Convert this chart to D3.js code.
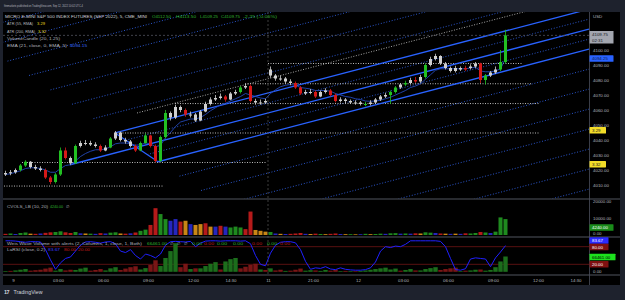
<!DOCTYPE html>
<html><head><meta charset="utf-8">
<script src="https://cdn.jsdelivr.net/npm/d3@7"></script>
<style>
body{margin:0;background:#1e222d;overflow:hidden}
svg{display:block}
text{font-family:"Liberation Sans",Arial,sans-serif}
</style></head>
<body><svg id="c" width="625" height="300"></svg>
<script>
// ---------------- DATA ----------------
const barStart = -30, barMinutes = 20;           // chart-minutes (0 = Sep 9 00:00, weekend removed)
const firstOpen = 4017;
const gapIndex = 53, gapOpen = 4087;             // Sunday session open
const closes = [4018,4018.5,4020,4023,4025.5,4022,4021,4020,4015,4012,
 4017,4033,4028,4024.5,4036,4038,4038,4037,4036,4033,
 4035,4041,4045,4040,4039,4036,4033,4038,4043,4036,
 4026,4042,4058,4055,4062,4060,4057,4057,4053,4059,
 4064,4067,4068,4069,4067,4071,4072,4075,4076,4066,
 4065,4065,4066,4083,4081,4081,4079,4078,4075,4071,
 4072,4072,4069,4072,4073,4070,4066,4067,4066,4065,
 4065,4064,4064,4065,4067,4069,4070,4072,4075,4077,
 4078,4080,4079,4082,4090,4094,4096,4091,4088,4086,
 4088,4087,4088,4089,4091,4080,4083,4085,4087,4092,
 4109.75];
const highs = [4019.5,4020,4021,4024,4026.5,4026,4023.5,4022.5,4021,4016,
 4018,4035,4035,4029,4037,4039.5,4040,4039.5,4038.5,4037,
 4036.5,4042,4046,4045.5,4041.5,4040,4037,4039,4044.5,4043.5,
 4037,4043,4060,4059,4063.5,4063,4061,4059,4058,4060,
 4065.5,4068.5,4070,4071,4070,4072,4073.5,4076,4077.5,4077,
 4067.5,4067,4067.5,4089,4084,4083,4082,4080.5,4079,4076,
 4073.5,4074,4073,4073,4074.5,4074,4071,4068.5,4068,4067,
 4066.5,4066,4065.5,4066.5,4068,4070,4071.5,4073,4076,4078,
 4079.5,4081.5,4082,4083.5,4091,4095.5,4097.5,4096.5,4092,4089,
 4089.5,4089,4089.5,4090.5,4092,4091.5,4084,4086,4089,4100,
 4113.5];
const lows = [4016,4016.5,4017.5,4019,4022,4021,4020,4019,4014,4010.5,
 4011,4016,4027,4023.5,4024,4035,4036.5,4036,4035,4032,
 4032.5,4034.5,4040,4039,4037.5,4035,4032,4032.5,4037.5,4035,
 4025,4025.5,4041,4053,4054,4058.5,4055.5,4055,4052,4052.5,
 4058.5,4063,4066,4067,4065.5,4066.5,4070,4071,4074,4065,
 4063.5,4063.5,4064.5,4081.5,4079.5,4079.5,4077.5,4076.5,4074,4070,
 4070,4070.5,4068,4068.5,4071,4069,4065,4065,4064.5,4064,
 4063.5,4063,4062.5,4063,4064,4066,4068,4064,4071,4074,
 4076,4077,4078,4078,4081,4089,4093,4090,4087,4085,
 4085,4086,4086,4087,4088,4078,4077,4082,4084,4086,
 4091];
const candleKinds = ("wwwggwwwrr"+"ggrwgwwwwr"+"wgwwwwrggr"+"rggwwwrwww"+"wwwwrwwgwr"+
  "wwwwwwwwrr"+"wwrwwrrwww"+"wwgwwwwggw"+"gwrwgwwwww"+"wwrwwrgwwg"+"g").split("");
const ema21 = [4017,4017.5,4018.5,4019.5,4021,4021.5,4021.5,4021,4020,4018.5,
 4018.5,4021,4023,4023.5,4026,4029,4031,4032.5,4033.5,4033.5,
 4034,4035.5,4037.5,4038,4038,4037.5,4036.5,4036.8,4038,4037.5,
 4035.5,4036.5,4041.5,4045,4049,4052,4053,4054,4054,4055,
 4057,4059.5,4061.5,4063.5,4064.5,4066,4067.5,4069,4071,4070,
 4069,4068,4067.5,4071,4073.5,4075.5,4076.5,4077,4076.5,4075,
 4074.5,4074,4073,4073,4073,4072.5,4071,4070,4069,4068.5,
 4067.5,4067,4066,4065.8,4066,4066.5,4067.5,4068.5,4070,4071.5,
 4073,4075,4076,4077.5,4080.5,4083.5,4086.5,4087.5,4087.5,4087.5,
 4087.5,4087.5,4087.5,4088,4088.5,4086,4085.5,4085.5,4086,4087.5,
 4094.15];
const volumes = [700,900,600,1200,1500,800,700,900,1300,1600,
 1800,2200,1600,1200,1800,1000,900,800,700,1100,
 900,1400,1600,900,800,1000,1500,2500,3200,6000,
 16000,12500,9500,8500,9500,8000,8500,6500,6000,6500,
 7000,5000,5000,5500,5000,4500,5000,4500,3500,14000,
 3000,2500,2000,1800,900,700,600,700,900,1200,
 700,600,800,600,500,700,900,600,500,500,
 400,500,700,500,600,800,700,1000,1100,800,
 900,800,1000,900,1600,1400,1200,900,800,700,
 800,700,1000,900,1200,1800,1500,1200,2000,10500,
 9500];
const volKinds = ("rgbggorbrr"+"ggrrgbogbr"+"bggorbrggr"+"rggbbroboo"+"robrbgggrr"+
  "ooogbobrrr"+"borgorrbog"+"obgoggbggb"+"gbroggbrob"+"obrggrgbgg"+"g").split("");
const waveVolume = [3000,-4000,6000,9000,12000,-5000,-7000,-9000,-14000,-18000,
 5000,12000,-6000,-9000,8000,14000,18000,-5000,-8000,-12000,
 6000,15000,20000,-8000,-14000,-20000,-24000,10000,16000,-30000,
 -50000,25000,60000,90000,124000,-20000,-35000,12000,-15000,15000,
 25000,35000,42000,-10000,45000,55000,60000,-15000,-22000,-30000,
 -35000,10000,-8000,15000,-6000,-9000,4000,-5000,-9000,-14000,
 5000,7000,-6000,4000,8000,-5000,-9000,3000,-4000,3000,
 -3000,4000,6000,9000,12000,15000,18000,10000,14000,-5000,
 8000,12000,-6000,6000,12000,16000,20000,-8000,-12000,-15000,
 -18000,3000,-5000,6000,9000,-10000,5000,8000,20000,45000,
 66461];
const laRsi = [100,100,99,97,95,97,97,96,70,35,
 3,25,40,45,65,85,96,97,95,92,
 96,97,90,65,60,70,50,38,55,50,
 42,55,85,97,98,97,96,98,80,92,
 99,100,100,99,100,100,100,99,100,90,
 50,20,15,58,85,95,97,97,93,70,
 30,3,8,6,12,4,2,8,3,1,
 0,0,2,8,28,65,80,77,82,80,
 88,100,100,100,100,100,100,98,80,40,
 2,0,5,38,42,40,38,12,42,62,
 83.67];
const tickLabels = ["9","03:00","06:00","09:00","12:00","14:30","11","21:00","12","03:00","06:00","09:00","12:00","14:30"];
const tickTimes  = [0,180,360,540,720,870,1020,1200,1380,1560,1740,1920,2100,2250];
const priceTicks = [4010,4020,4030,4040,4050,4060,4070,4080,4090,4100];
const volTicks = [10000,20000];
const sessionBreak = 1020;
// Andrews pitchfork pivots (A, B, C)
const pfTimes = [228,408,580];
const pfPrices = [4023.5,4044.67,4025.5];
const pfLevels = [2,3,4,5,6,7,8,0.5,-0.5,-2,-3,-4,-5,-6,-7,-8];
// horizontal dotted levels
const hPrices = [4009.3,4025,4044.67,4064.3,4077.5,4091];
const hStart  = [-36,36,408,648,928,1020];
const hEnd    = [600,1016,2108,2108,2076,2040];
// extra sloped dotted line (start)
const slopeT = 496, slopeP = 4058;
const lastPrice = 4109.75;

// ---------------- SCALES ----------------
const svg = d3.select("#c");
const X0=3, X1=589;
const x = d3.scaleLinear().domain([-40,2304]).range([X0,X1]);
const y = d3.scaleLinear().domain([4001,4125.333]).range([198.5,12]);
const yVol = d3.scaleLinear().domain([0,20000]).range([235,201.5]);
const yRsi = d3.scaleLinear().domain([0,100]).range([270.2,240.8]);
const yWave = d3.scaleLinear().domain([0,66461]).range([271.8,256.5]);
const bt = i => barStart + i*barMinutes;

const LBL="#b2b5be", GRN="#2fb52f", RED="#c41a1a", BLU="#2962ff";
const FS=4.4;

svg.append("rect").attr("width",625).attr("height",300).attr("fill","#1e222d");
svg.append("rect").attr("x",3).attr("y",12).attr("width",617).attr("height",273).attr("fill","#000");

const defs = svg.append("defs");
function clip(id,y0,y1){defs.append("clipPath").attr("id",id).append("rect")
  .attr("x",X0).attr("y",y0).attr("width",X1-X0).attr("height",y1-y0);}
clip("cm",12,198.5); clip("cv",199.5,236.5); clip("cw",237.5,274.5);

// ---------------- MAIN PANE ----------------
const gm = svg.append("g").attr("clip-path","url(#cm)");

// pitchfork
const A=[x(pfTimes[0]),y(pfPrices[0])], B=[x(pfTimes[1]),y(pfPrices[1])], C=[x(pfTimes[2]),y(pfPrices[2])];
const M=[(B[0]+C[0])/2,(B[1]+C[1])/2];
const slope=(M[1]-A[1])/(M[0]-A[0]);
function ray(p){
  const x2=X1, y2=p[1]+slope*(x2-p[0]);
  return gm.append("line").attr("x1",p[0]).attr("y1",p[1]).attr("x2",x2).attr("y2",y2);
}
pfLevels.forEach(k=>{
  const s=[M[0]+k*(B[0]-M[0]), M[1]+k*(B[1]-M[1])];
  ray(s).attr("stroke","#2f5fe0").attr("stroke-width",0.9).attr("stroke-dasharray","1,1.8");
});
ray([x(slopeT),y(slopeP)]).attr("stroke","#b8b8b8").attr("stroke-width",0.9).attr("stroke-dasharray","1,1.6");
hPrices.forEach((p,i)=>{
  gm.append("line").attr("x1",x(hStart[i])).attr("x2",x(hEnd[i])).attr("y1",y(p)).attr("y2",y(p))
    .attr("stroke","#cfcfcf").attr("stroke-width",0.9).attr("stroke-dasharray","1,1.5");
});
[A,B,C].forEach(p=>ray(p).attr("stroke",BLU).attr("stroke-width",1.3));
gm.append("line").attr("x1",B[0]).attr("y1",B[1]).attr("x2",C[0]).attr("y2",C[1]).attr("stroke",BLU).attr("stroke-width",1.3);

gm.append("line").attr("x1",X0).attr("x2",X1).attr("y1",y(lastPrice)).attr("y2",y(lastPrice))
  .attr("stroke","#50535e").attr("stroke-width",0.8).attr("stroke-dasharray","2,2");

gm.append("path").datum(ema21).attr("fill","none").attr("stroke","#2448b8").attr("stroke-width",0.9)
  .attr("d",d3.line().x((d,i)=>x(bt(i))).y(d=>y(d)));

// candles
const kc={w:"#cfcfcf",g:"#22c022",r:"#d61818"};
closes.forEach((c,i)=>{
  const o = i===gapIndex ? gapOpen : (i===0 ? firstOpen : closes[i-1]);
  const cx=x(bt(i)), col=kc[candleKinds[i]];
  gm.append("line").attr("x1",cx).attr("x2",cx).attr("y1",y(highs[i])).attr("y2",y(lows[i]))
    .attr("stroke",col).attr("stroke-width",0.8);
  const y1=y(Math.max(o,c)), y2=y(Math.min(o,c));
  gm.append("rect").attr("x",cx-1.5).attr("width",3)
    .attr("y",y1).attr("height",Math.max(1,y2-y1)).attr("fill",col);
});

// ---------------- VOLUME PANE ----------------
const gv = svg.append("g").attr("clip-path","url(#cv)");
const vc={g:"#1f8a1f",r:"#b51a1a",b:"#2626bd",o:"#c98616"};
volumes.forEach((v,i)=>{
  gv.append("rect").attr("x",x(bt(i))-2).attr("width",4).attr("y",yVol(v))
    .attr("height",yVol(0)-yVol(v)).attr("fill",vc[volKinds[i]]);
});

// ---------------- WAVE / LaRSI PANE ----------------
const gw = svg.append("g").attr("clip-path","url(#cw)");
[80,20].forEach(l=>gw.append("line").attr("x1",X0).attr("x2",X1).attr("y1",yRsi(l)).attr("y2",yRsi(l))
  .attr("stroke","#6e1414").attr("stroke-width",0.8));
waveVolume.forEach((v,i)=>{
  const a=Math.abs(v);
  gw.append("rect").attr("x",x(bt(i))-2.2).attr("width",4.4).attr("y",yWave(a))
    .attr("height",yWave(0)-yWave(a)).attr("fill",v>=0?"#1c6e1c":"#7a1616");
});
gw.append("path").datum(laRsi).attr("fill","none").attr("stroke","#2020ff").attr("stroke-width",1)
  .attr("d",d3.line().x((d,i)=>x(bt(i))).y(d=>yRsi(d)));

// ---------------- FRAME LINES ----------------
[199,237,275].forEach(yy=>svg.append("line").attr("x1",3).attr("x2",620).attr("y1",yy).attr("y2",yy)
  .attr("stroke","#5a5e6a").attr("stroke-width",0.9));
svg.append("line").attr("x1",589.5).attr("x2",589.5).attr("y1",12).attr("y2",285).attr("stroke","#4a4e5a").attr("stroke-width",0.8);
svg.append("line").attr("x1",x(sessionBreak)).attr("x2",x(sessionBreak)).attr("y1",12).attr("y2",275)
  .attr("stroke","#4d4d4d").attr("stroke-width",0.8).attr("stroke-dasharray","2,2");

// ---------------- AXES ----------------
function styleAxis(g){g.select(".domain").remove();
  g.selectAll("text").attr("fill",LBL).attr("font-size",FS).attr("font-family","Liberation Sans, Arial, sans-serif");}
const pa = svg.append("g").attr("transform","translate(589,0)")
  .call(d3.axisRight(y).tickValues(priceTicks).tickFormat(d3.format(".2f")).tickSize(0).tickPadding(4));
styleAxis(pa);
const va = svg.append("g").attr("transform","translate(589,0)")
  .call(d3.axisRight(yVol).tickValues(volTicks).tickFormat(d3.format(".2f")).tickSize(0).tickPadding(4));
styleAxis(va);
const ta = svg.append("g").attr("transform","translate(0,280)")
  .call(d3.axisBottom(x).tickValues(tickTimes).tickFormat((d,i)=>tickLabels[i]).tickSize(0));
styleAxis(ta); ta.selectAll("text").attr("y",0).attr("dy","0.35em");

function txt(s,xx,yy,fill,fs,len){
  const t=svg.append("text").attr("x",xx).attr("y",yy).attr("dy","0.35em").attr("fill",fill)
    .attr("font-size",fs||FS).text(s);
  if(len) t.attr("textLength",len).attr("lengthAdjust","spacingAndGlyphs");
  return t;
}
function tag(yc,s,bg,fg,w,h){h=h||6.5;
  svg.append("rect").attr("x",589.5).attr("y",yc-h/2).attr("width",w).attr("height",h).attr("fill",bg).attr("rx",0.6);
  txt(s,592,yc,fg);
}
txt("USD",593,16,LBL);
svg.append("rect").attr("x",589.5).attr("y",31).attr("width",24).attr("height",12.5).attr("fill","#a3a6af");
txt("4109.75",592,34.5,"#131722"); txt("02:31",592,40.5,"#131722");
tag(y(4094.25),"4094.25","#2962ff","#0d1b4d",24);
tag(130.3,"3.29","#f2dc28","#131722",16.5);
tag(164.2,"3.32","#f2dc28","#131722",16.5);
txt("0.00",593,233,LBL);
tag(227.5,"4240.00","#1a8c1a","#ffffff",24);
tag(240.5,"83.67","#2b2bff","#ffffff",19);
tag(247,"80.00","#7f1010","#ffffff",19);
tag(257,"66461.00","#1de11d","#000000",26);
tag(264.3,"20.00","#7f1010","#ffffff",19);
txt("0.00",593,271.2,LBL);

// ---------------- LEGENDS ----------------
txt("fitnmarkets published on TradingView.com, Sep 12, 2022 10:02 UTC-4",4,6,LBL,3.4,79);
const legends = [
 [16,[["MICRO E-MINI S&P 500 INDEX FUTURES (SEP 2022), 5, CME_MINI","#d1d4dc",5,142],["O4112.50",GRN,152,19],
      ["H4113.50",GRN,176,20],["L4109.25",GRN,200,18],["C4109.75",GRN,221,19],["-2.25 (-0.05%)",GRN,243,34]]],
 [23.5,[["ATR (55, RMA)",LBL,7,26],["3.29","#e8d41c",37,8]]],
 [31,[["ATR (200, RMA)",LBL,7,28],["3.32","#e8d41c",38,8]]],
 [38,[["VolumeCandle (20, 1.25)",LBL,7,53]]],
 [45,[["EMA (21, close, 0, EMA, 5)",LBL,7,60],["4094.15","#3a6dff",70,17]]],
 [206,[["CVOLS_LB (10, 20)",LBL,7,41],["4240.00",GRN,50,13],["∅",LBL,66,0]]],
 [243,[["Weis Wave Volume with alerts (2, Columns, 1, close, 1, Both)",LBL,7,135],["66461.00",GRN,147,20],
       ["∅",LBL,170,0],["∅",LBL,177,0],["∅",LBL,184,0],
       ["0.00",GRN,192,10],["0.00",RED,204,10],["0.00",GRN,217,10],["0.00",GRN,233,10],
       ["0.00",RED,252,10],["0.00",GRN,267,10],["0.00",RED,280,10]]],
 [249,[["LaRSI (close, 0.2)",LBL,7,38],["83.67","#3a3aff",48,12],["80.00",RED,64,12],["20.00",RED,78,12]]]
];
legends.forEach(([yy,segs])=>segs.forEach(s=>txt(s[0],s[2],yy,s[1],FS,s[3]||null)));

txt("17",4,292.5,"#d1d4dc",5.5).attr("font-weight","bold").attr("letter-spacing","-0.6");
txt("TradingView",13.5,292.5,"#d1d4dc",4.6,29);
</script></body></html>
